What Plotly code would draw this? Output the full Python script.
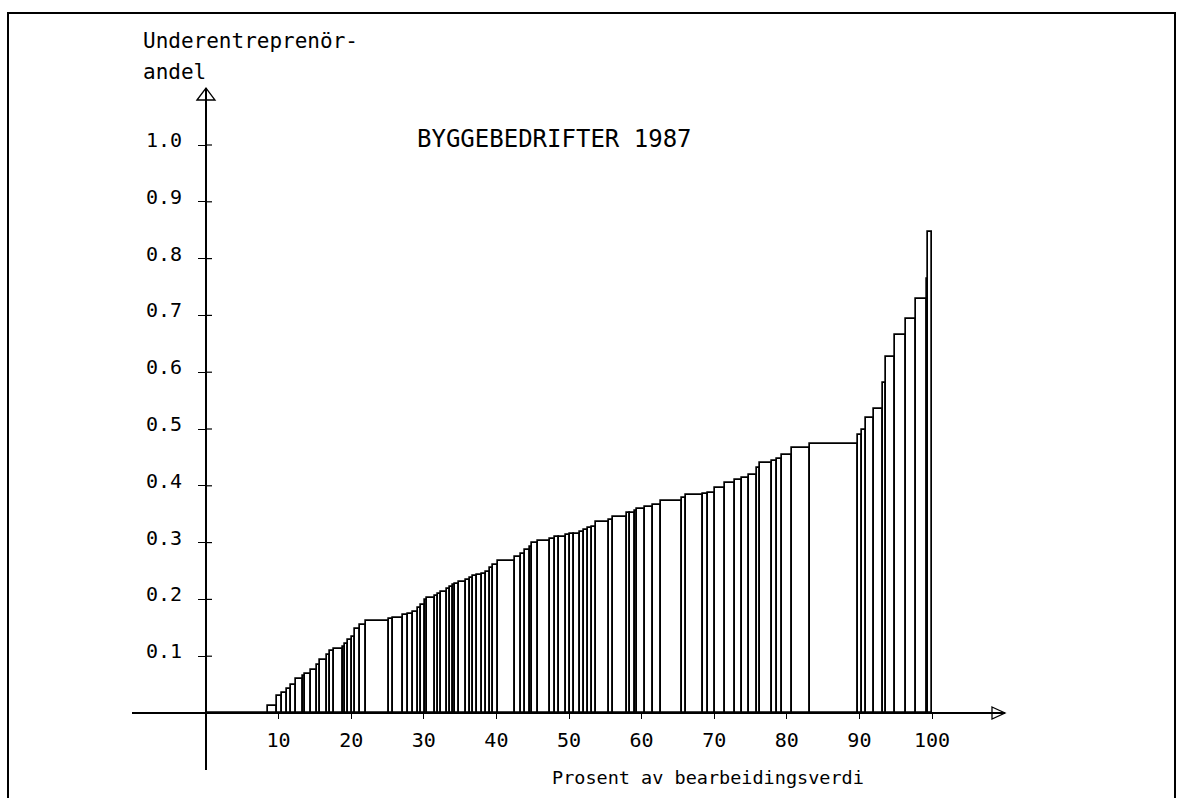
import plotly.graph_objects as go
import numpy as np

# Right edge of each group (cumulative percent of value added), and the
# subcontractor share (Underentreprenørandel) of that group
cum_pct = [8.54, 9.78, 10.47, 11.16, 11.71, 12.40, 13.36, 13.64, 14.46, 15.29,
           15.70, 16.67, 17.08, 17.63, 18.87, 19.15, 19.56, 20.11, 20.52, 21.21,
           22.04, 25.21, 25.76, 27.13, 27.82, 28.51, 29.20, 29.61, 30.17, 30.44,
           31.54, 31.96, 32.37, 33.20, 33.61, 34.02, 34.30, 34.85, 35.81, 36.36,
           36.78, 37.33, 38.02, 38.57, 39.12, 39.53, 40.22, 42.56, 43.39, 43.94,
           44.63, 44.90, 45.73, 47.38, 48.07, 48.62, 49.59, 50.14, 50.69, 51.52,
           52.07, 52.62, 53.17, 53.72, 55.51, 56.06, 57.99, 58.40, 59.09, 59.37,
           60.47, 61.57, 62.67, 65.56, 66.12, 68.46, 69.15, 70.11, 71.49, 72.87,
           73.83, 74.79, 75.90, 76.31, 77.96, 78.65, 79.34, 80.72, 83.20, 89.81,
           90.36, 90.91, 92.01, 93.25, 93.66, 94.90, 96.42, 97.80, 99.31, 99.45,
           100.0]
share = [0.0, 0.013, 0.030, 0.035, 0.042, 0.050, 0.060, 0.065, 0.069, 0.075,
         0.085, 0.093, 0.103, 0.110, 0.112, 0.116, 0.121, 0.128, 0.134, 0.148,
         0.155, 0.162, 0.165, 0.168, 0.172, 0.174, 0.178, 0.185, 0.190, 0.199,
         0.202, 0.206, 0.209, 0.2135, 0.218, 0.221, 0.225, 0.228, 0.231, 0.234,
         0.2375, 0.242, 0.243, 0.245, 0.249, 0.255, 0.260, 0.268, 0.274, 0.280,
         0.287, 0.293, 0.299, 0.302, 0.306, 0.309, 0.310, 0.313, 0.315, 0.316,
         0.319, 0.322, 0.326, 0.328, 0.337, 0.340, 0.3456, 0.3515, 0.353, 0.356,
         0.359, 0.363, 0.366, 0.373, 0.378, 0.383, 0.3856, 0.388, 0.397, 0.405,
         0.410, 0.413, 0.4185, 0.431, 0.4407, 0.444, 0.4477, 0.454, 0.466, 0.473,
         0.489, 0.498, 0.520, 0.535, 0.5815, 0.627, 0.6655, 0.693, 0.729, 0.764,
         0.846]

x_ticks = [10, 20, 30, 40, 50, 60, 70, 80, 90, 100]
y_ticks = [0.1, 0.2, 0.3, 0.4, 0.5, 0.6, 0.7, 0.8, 0.9, 1.0]

title_text = "BYGGEBEDRIFTER 1987"
y_title_lines = ["Underentreprenör-", "andel"]
x_title = "Prosent av bearbeidingsverdi"

right = np.array(cum_pct)
left = np.concatenate([[0.0], right[:-1]])
widths = right - left
mids = (left + right) / 2

W, H = 1180, 798
FONT = "DejaVu Sans Mono, monospace"

fig = go.Figure()
fig.add_trace(go.Bar(
    x=mids, y=share, width=widths,
    marker=dict(color="white", line=dict(color="black", width=1.7)),
    hoverinfo="skip", showlegend=False,
))


def px(xp):
    return xp / W


def py(yp):
    return (H - yp) / H


shapes = []
# page frame
shapes.append(dict(type="path", xref="paper", yref="paper",
                   path=f"M {px(8)} {py(830)} L {px(8)} {py(13)} L {px(1175)} {py(13)} L {px(1175)} {py(830)}",
                   line=dict(color="black", width=2)))
# x arrow (open triangle)
shapes.append(dict(type="path", xref="paper", yref="paper",
                   path=f"M {px(992)} {py(707)} L {px(1005)} {py(713)} L {px(992)} {py(719)} Z",
                   line=dict(color="black", width=1.3), fillcolor="rgba(0,0,0,0)"))
# y arrow (open triangle)
shapes.append(dict(type="path", xref="paper", yref="paper",
                   path=f"M {px(197)} {py(100)} L {px(206)} {py(88)} L {px(215)} {py(100)} Z",
                   line=dict(color="black", width=1.3), fillcolor="rgba(0,0,0,0)"))
# inner part of y ticks (they cross the axis)
for v in y_ticks:
    shapes.append(dict(type="line", xref="paper", yref="y",
                       x0=px(206), x1=px(212), y0=v, y1=v,
                       line=dict(color="black", width=1.2)))

annotations = [
    dict(text=title_text, xref="paper", yref="paper", x=px(415), y=py(139),
         xanchor="left", yanchor="middle", showarrow=False,
         font=dict(family=FONT, size=24, color="black")),
    dict(text=x_title, xref="paper", yref="paper", x=px(866), y=py(777),
         xanchor="right", yanchor="middle", showarrow=False,
         font=dict(family=FONT, size=18.5, color="black")),
]
for i, line in enumerate(y_title_lines):
    annotations.append(dict(text=line, xref="paper", yref="paper", x=px(141), y=py(41 + 31 * i),
                            xanchor="left", yanchor="middle", showarrow=False,
                            font=dict(family=FONT, size=21, color="black")))

fig.update_layout(
    width=W, height=H,
    margin=dict(l=0, r=0, t=0, b=0),
    paper_bgcolor="white", plot_bgcolor="white",
    bargap=0,
    shapes=shapes,
    annotations=annotations,
    xaxis=dict(
        domain=[132 / W, 1005 / W],
        range=[(132 - 206) / 7.26, (1005 - 206) / 7.26],
        anchor="free", position=(H - 713) / H,
        showline=True, linecolor="black", linewidth=2,
        showgrid=False, zeroline=False,
        tickmode="array", tickvals=x_ticks, ticktext=[str(v) for v in x_ticks],
        ticks="outside", ticklen=5, tickwidth=1.2, tickcolor="black",
        ticklabelstandoff=4,
        tickfont=dict(family=FONT, size=20, color="black"),
    ),
    yaxis=dict(
        domain=[(H - 770) / H, (H - 88) / H],
        range=[(713 - 770) / 568, (713 - 88) / 568],
        anchor="free", position=206 / W,
        showline=True, linecolor="black", linewidth=2,
        showgrid=False, zeroline=False,
        tickmode="array", tickvals=y_ticks, ticktext=[f"{v:.1f}" for v in y_ticks],
        ticks="outside", ticklen=7, tickwidth=1.2, tickcolor="black",
        ticklabelstandoff=12, ticklabelshift=-5,
        tickfont=dict(family=FONT, size=20, color="black"),
    ),
)

fig.write_html("out.html")
